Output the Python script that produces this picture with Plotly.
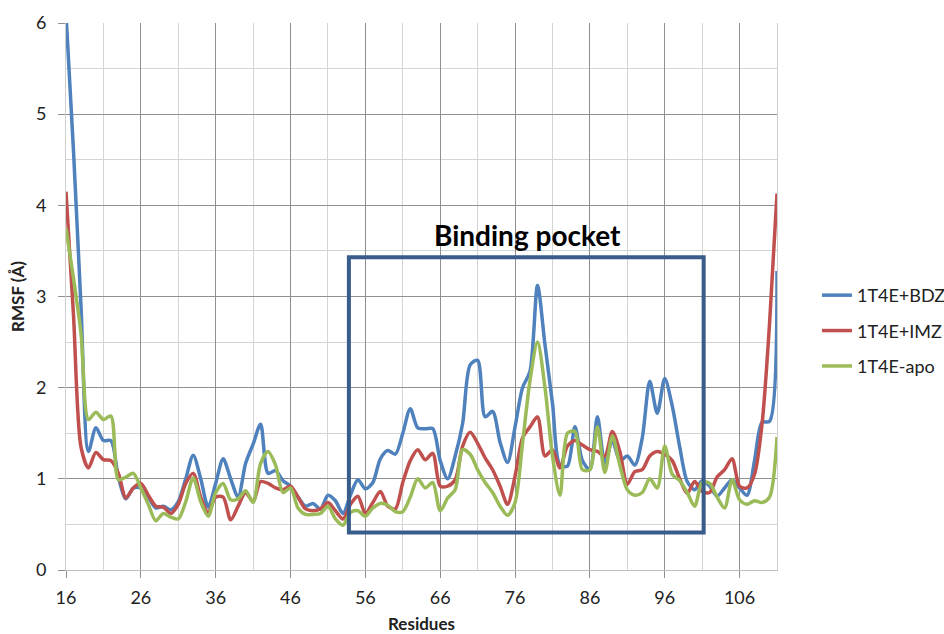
import plotly.graph_objects as go

# Residue numbers along the sequence
residues = list(range(16, 112))

# Per-residue RMSF (Å) for each system
rmsf_bdz = [6.1, 4.6, 2.9, 1.3, 1.56, 1.42, 1.42, 1.02, 0.78, 0.9,
            0.9, 0.8, 0.68, 0.7, 0.66, 0.75, 1.0, 1.26, 1.0, 0.69,
            0.95, 1.22, 1.0, 0.8, 1.17, 1.38, 1.6, 1.06, 1.09, 0.98,
            0.92, 0.8, 0.7, 0.73, 0.67, 0.82, 0.76, 0.62, 0.82, 0.99,
            0.89, 0.96, 1.22, 1.31, 1.27, 1.5, 1.77, 1.56, 1.55, 1.55,
            1.2, 1.0, 1.25, 1.61, 2.25, 2.3, 1.68, 1.74, 1.4, 1.18,
            1.57, 2.0, 2.18, 3.12, 2.47, 1.83, 1.15, 1.14, 1.57, 1.2,
            1.1, 1.68, 1.17, 1.42, 1.2, 1.25, 1.15, 1.45, 2.07, 1.72,
            2.1, 1.8, 1.35, 0.97, 0.88, 0.98, 0.92, 0.81, 0.9, 0.99,
            0.9, 0.82, 1.2, 1.62, 1.63, 3.28]

rmsf_imz = [4.15, 2.8, 1.35, 1.12, 1.29, 1.21, 1.2, 1.06, 0.79, 0.9,
            0.95, 0.82, 0.7, 0.69, 0.62, 0.72, 0.95, 1.06, 0.8, 0.63,
            0.8, 0.8, 0.55, 0.7, 0.85, 0.75, 0.97, 0.95, 0.9, 0.88,
            0.92, 0.8, 0.67, 0.65, 0.67, 0.74, 0.65, 0.56, 0.72, 0.81,
            0.62, 0.74, 0.86, 0.7, 0.67, 0.96, 1.2, 1.32, 1.21, 1.28,
            0.92, 0.92, 0.99, 1.36, 1.51, 1.39, 1.23, 1.1, 0.92, 0.72,
            1.03, 1.45, 1.57, 1.68, 1.25, 1.32, 1.12, 1.36, 1.42, 1.37,
            1.32, 1.3, 1.25, 1.52, 1.3, 0.94, 1.08, 1.1, 1.25, 1.3,
            1.27, 1.2, 1.0, 0.84, 0.97, 0.86, 0.85, 1.02, 1.1, 1.22,
            0.92, 0.9, 1.05, 1.6, 2.7, 4.13]

rmsf_apo = [3.75, 3.2, 2.6, 1.65, 1.73, 1.65, 1.69, 0.99, 1.02, 1.06,
            0.9, 0.72, 0.54, 0.62, 0.58, 0.56, 0.75, 1.01, 0.75, 0.59,
            0.85, 0.95, 0.77, 0.78, 0.87, 0.74, 1.17, 1.3, 1.15, 0.85,
            0.9, 0.68, 0.61, 0.61, 0.62, 0.7, 0.56, 0.49, 0.63, 0.65,
            0.59, 0.68, 0.73, 0.71, 0.64, 0.64, 0.8, 1.0, 0.9, 0.96,
            0.65, 0.79, 0.88, 1.32, 1.27, 1.1, 0.96, 0.85, 0.7, 0.6,
            0.74, 1.39, 2.08, 2.5, 2.0, 1.25, 0.82, 1.5, 1.52, 1.1,
            1.1, 1.57, 1.07, 1.47, 1.15, 0.88, 0.82, 0.85, 1.0, 0.9,
            1.36, 1.05, 0.98, 0.85, 0.7, 0.96, 0.95, 0.8, 0.68, 0.99,
            0.77, 0.72, 0.76, 0.74, 0.8, 1.46]

series_names = ["1T4E+BDZ", "1T4E+IMZ", "1T4E-apo"]
series_colors = ["#4F81BD", "#C0504D", "#9BBB59"]

# Binding-pocket region (residue span, RMSF span)
pocket_x = [53.8, 101.2]
pocket_y = [0.41, 3.43]
pocket_label = "Binding pocket"

x_ticks = list(range(16, 107, 10))

FONT = "Lato"

fig = go.Figure()
for name, vals, col in zip(series_names, [rmsf_bdz, rmsf_imz, rmsf_apo], series_colors):
    fig.add_trace(go.Scatter(
        x=residues, y=vals, name=name, mode="lines",
        line=dict(color=col, width=3.5, shape="spline", smoothing=0.8),
        legendgroup=name,
    ))

fig.add_shape(
    type="rect", xref="x", yref="y",
    x0=pocket_x[0], x1=pocket_x[1], y0=pocket_y[0], y1=pocket_y[1],
    line=dict(color="#385D8A", width=4), layer="above",
)
fig.add_annotation(
    x=sum(pocket_x) / 2 + 0.1, y=pocket_y[1] + 0.24, xref="x", yref="y",
    text="<b>%s</b>" % pocket_label, showarrow=False,
    font=dict(family=FONT, size=28, color="black"),
)

fig.update_layout(
    width=944, height=634,
    margin=dict(l=66, r=167, t=23, b=64, autoexpand=False),
    paper_bgcolor="white", plot_bgcolor="white",
    font=dict(family=FONT, color="#333333"),
    legend=dict(
        x=1.0562, y=0.437, xanchor="left", yanchor="middle",
        font=dict(family=FONT, size=18, color="#222222"),
        tracegroupgap=9, bgcolor="rgba(0,0,0,0)",
    ),
)

fig.update_xaxes(
    range=[16, 111], tickmode="array", tickvals=x_ticks,
    showgrid=True, gridcolor="#8f8f8f", gridwidth=1,
    minor=dict(dtick=5, tick0=16, showgrid=True, gridcolor="#d4d4d4", gridwidth=1),
    ticks="outside", ticklen=7, tickcolor="#8f8f8f",
    showline=True, linecolor="#bfbfbf", linewidth=1,
    tickfont=dict(family=FONT, size=18, color="#222222"),
    ticklabelstandoff=4,
    title=dict(text="<b>Residues</b>", font=dict(family=FONT, size=17, color="#222222"), standoff=24),
    zeroline=False,
)
fig.update_yaxes(
    range=[0, 6], dtick=1, tick0=0,
    showgrid=True, gridcolor="#8f8f8f", gridwidth=1,
    minor=dict(dtick=0.5, showgrid=True, gridcolor="#d4d4d4", gridwidth=1),
    ticks="outside", ticklen=7, tickcolor="#8f8f8f",
    showline=True, mirror=True, linecolor="#cfcfcf", linewidth=1,
    tickfont=dict(family=FONT, size=18, color="#222222"),
    ticklabelstandoff=8,
    title=dict(text="<b>RMSF (Å)</b>", font=dict(family=FONT, size=17, color="#222222"), standoff=6),
    zeroline=False,
)

fig.write_html("out.html")
